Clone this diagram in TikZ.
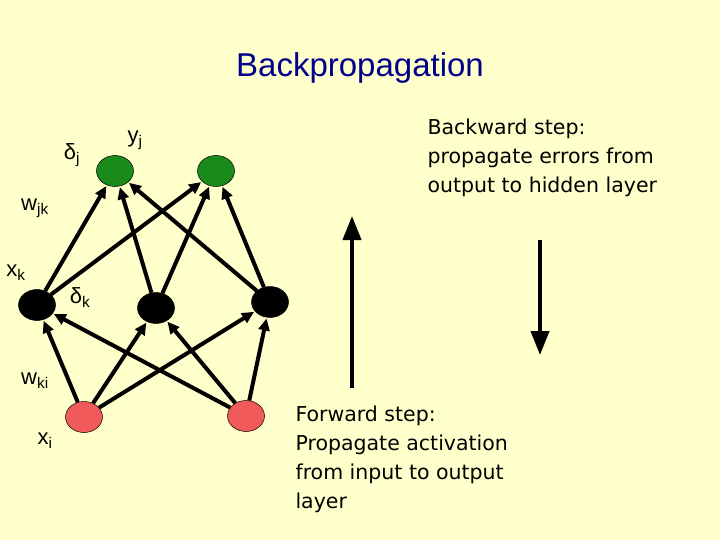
\documentclass[tikz,border=0pt]{standalone}
\usepackage{fontspec}
\setmainfont{Liberation Sans}
\newfontfamily\stepfont{DejaVu Sans}
\usetikzlibrary{arrows.meta,shapes.geometric}
\definecolor{bg}{HTML}{FFFFCC}
\definecolor{ttl}{HTML}{00008B}
\definecolor{outc}{HTML}{1A8A1A}
\definecolor{inc}{HTML}{F05A5A}
\begin{document}
\begin{tikzpicture}[x=1pt,y=-1pt,
  neuron/.style={ellipse,minimum width=37pt,minimum height=31pt,draw=black,line width=0.5pt,inner sep=0pt},
  ar/.style={-{Triangle[length=12pt,width=11pt]},line width=4pt,shorten >=1pt},
  big/.style={-{Triangle[length=24pt,width=18pt]},line width=4pt},
  lbl/.style={font=\fontsize{22}{24}\selectfont},
  steptext/.style={font=\stepfont\fontsize{20.5}{29}\selectfont,align=left,anchor=north west}]
\fill[bg] (0,0) rectangle (720,540);
\useasboundingbox (0,0) rectangle (720,540);
\node[font=\fontsize{33}{35}\selectfont,text=ttl] (title) at (360,68) {Backpropagation};
\node[neuron,fill=outc] (o1) at (115,171) {};
\node[neuron,fill=outc] (o2) at (216,171) {};
\node[neuron,fill=black] (h1) at (37,305) {};
\node[neuron,fill=black] (h2) at (156,308) {};
\node[neuron,fill=black] (h3) at (270,302) {};
\node[neuron,fill=inc] (i1) at (84,417) {};
\node[neuron,fill=inc] (i2) at (246,416) {};
\foreach \h in {h1,h2,h3}{\foreach \o in {o1,o2}{\draw[ar] (\h) -- (\o);}}
\foreach \i in {i1,i2}{\foreach \h in {h1,h2,h3}{\draw[ar] (\i) -- (\h);}}
\node[lbl] (dj) at (72,155) {δ\textsubscript{j}};
\node[lbl] (yj) at (135,140) {y\textsubscript{j}};
\node[lbl] (wjk) at (35,208) {w\textsubscript{jk}};
\node[lbl] (xk) at (16,273) {x\textsubscript{k}};
\node[lbl] (dk) at (80,298) {δ\textsubscript{k}};
\node[lbl] (wki) at (35,381) {w\textsubscript{ki}};
\node[lbl] (xi) at (45,441) {x\textsubscript{i}};
\coordinate (ub) at (352,388); \coordinate (ut) at (352,216);
\coordinate (dt) at (540,240); \coordinate (db) at (540,355);
\draw[big] (ub) -- (ut);
\draw[big] (dt) -- (db);
\node[steptext] (bw) at (424,115) {Backward step:\\propagate errors from\\output to hidden layer};
\node[steptext] (fw) at (292,402) {Forward step:\\Propagate activation\\from input to output\\layer};
\end{tikzpicture}
\end{document}
